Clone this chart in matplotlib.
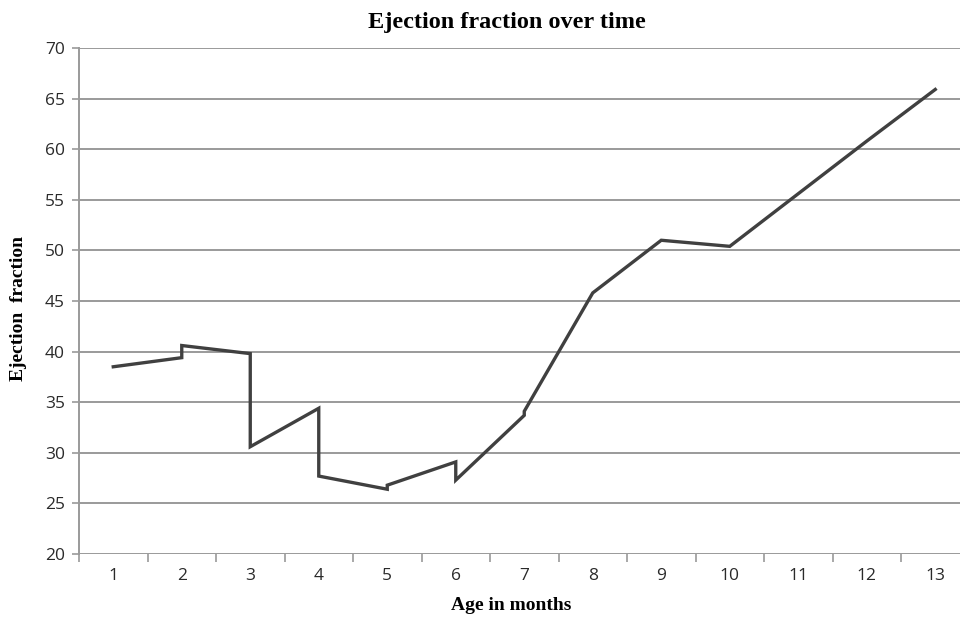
import numpy as np
import matplotlib
matplotlib.use('Agg')
import matplotlib.pyplot as plt
from matplotlib.ticker import FixedLocator

months = [1, 2, 2, 3, 3, 4, 4, 5, 5, 6, 6, 7, 7, 8, 9, 10, 11, 12, 13]
ejection = [38.5, 39.4, 40.6, 39.8, 30.6, 34.4, 27.7, 26.4, 26.8, 29.1, 27.3,
            33.7, 34.1, 45.8, 51.0, 50.4, 55.6, 60.8, 65.9]
month_labels = [str(m) for m in range(1, 14)]
y_ticks = [20, 25, 30, 35, 40, 45, 50, 55, 60, 65, 70]

fig = plt.figure(figsize=(9.6, 6.19), dpi=100)
ax = fig.add_axes([0.0823, 0.105, 0.9276, 0.8175])

grid_col = '#9a9a9a'
for v in y_ticks:
    ax.axhline(v, color=grid_col, lw=1.4, zorder=1)

ax.plot(months, ejection, color='#404040', lw=2.4, zorder=3,
        solid_joinstyle='miter')

ax.set_xlim(0.5, 13.5)
ax.set_ylim(20, 70)
ax.set_yticks(y_ticks)
ax.set_xticks(range(1, 14))
ax.set_xticklabels(month_labels)
ax.xaxis.set_minor_locator(FixedLocator(np.arange(0.5, 14, 1.0)))

for s in ['top', 'right', 'bottom']:
    ax.spines[s].set_visible(False)
ax.spines['left'].set_color(grid_col)
ax.spines['left'].set_linewidth(1.4)

tick_font = 'Open Sans'
ax.tick_params(axis='x', which='major', length=0, pad=10,
               labelsize=12.5, labelcolor='#2a2a2a')
ax.tick_params(axis='x', which='minor', length=6, width=1.2, color=grid_col,
               direction='out')
ax.tick_params(axis='y', length=5, width=1.2, color=grid_col, pad=5,
               labelsize=12.5, labelcolor='#2a2a2a')
for lab in ax.get_xticklabels() + ax.get_yticklabels():
    lab.set_family(tick_font)

serif = 'Liberation Serif'
fig.text(0.528, 0.963, 'Ejection fraction over time', ha='center', va='center',
         fontsize=17.5, fontweight='bold', family=serif)
fig.text(0.533, 0.022, 'Age in months', ha='center', va='center',
         fontsize=14, fontweight='bold', family=serif)
fig.text(0.019, 0.502, 'Ejection  fraction', ha='center', va='center',
         rotation=90, fontsize=14, fontweight='bold', family=serif)

fig.savefig('out.png', dpi=100)
